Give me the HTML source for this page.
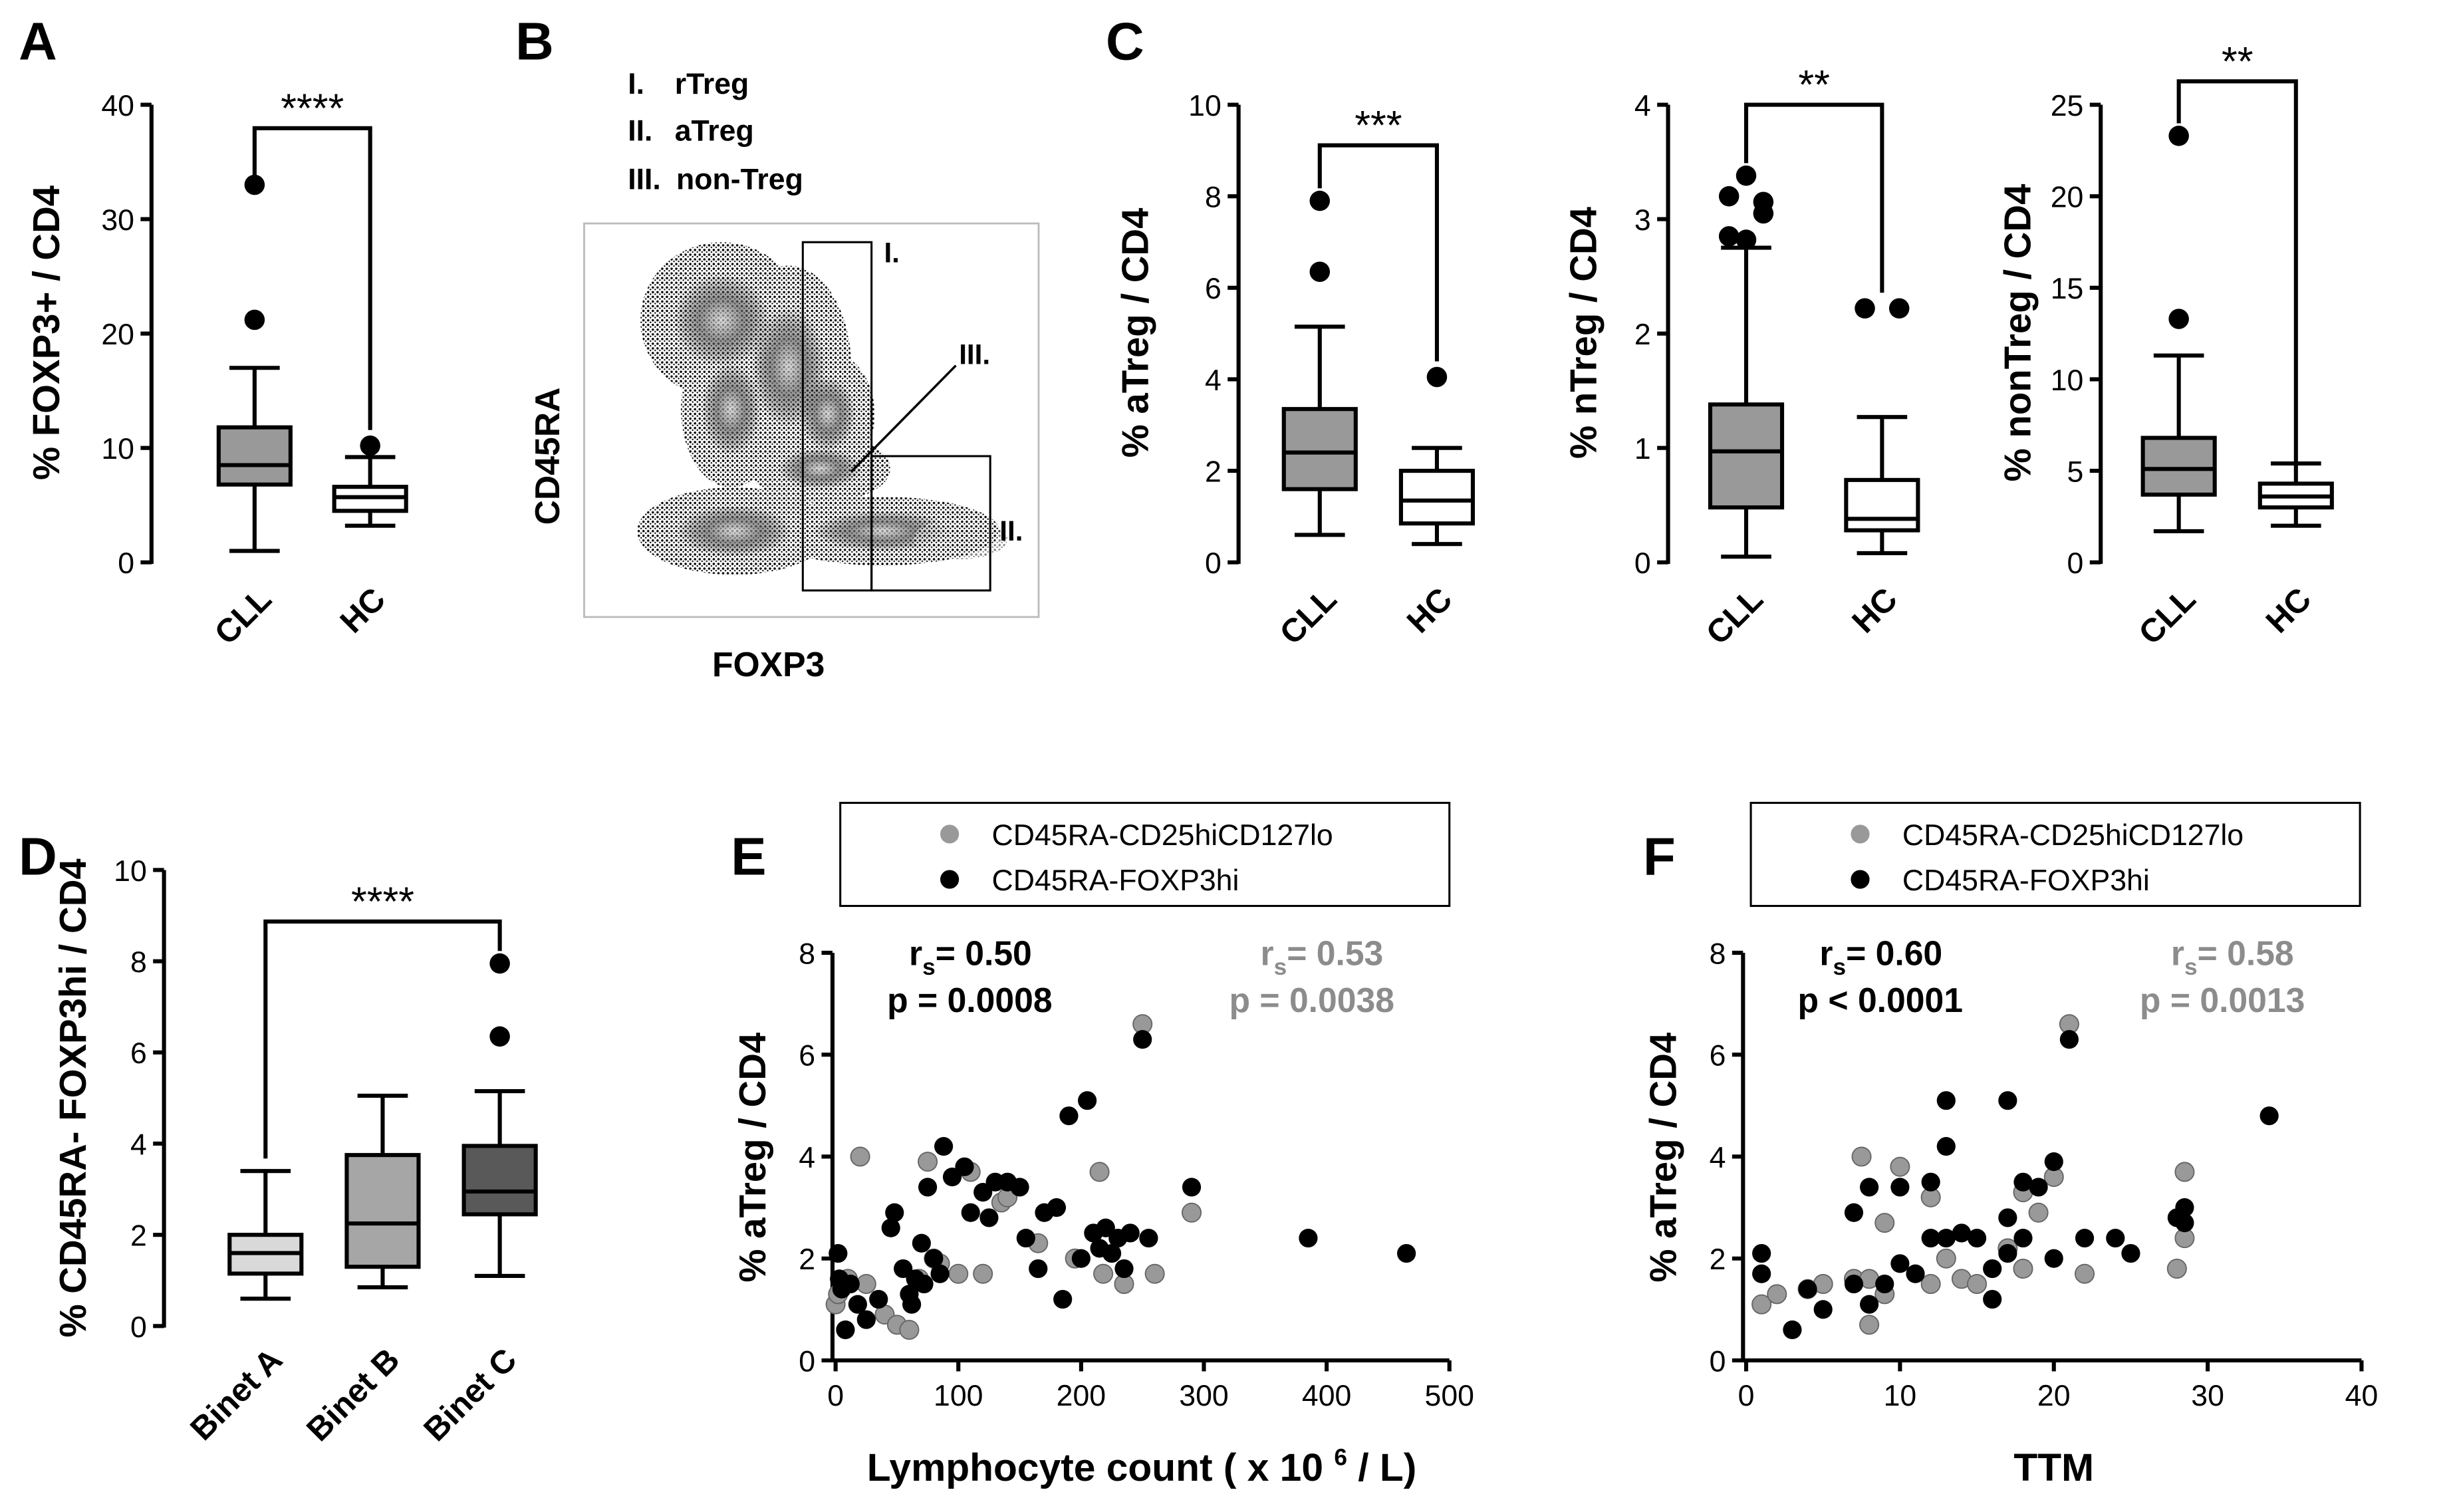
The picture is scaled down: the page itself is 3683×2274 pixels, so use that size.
<!DOCTYPE html>
<html><head><meta charset="utf-8"><style>
html,body{margin:0;padding:0;background:#fff}
svg{display:block}
text{font-family:"Liberation Sans",Arial,sans-serif}
</style></head><body>
<svg id="fig" width="3683" height="2274" viewBox="0 0 1568 968" xmlns="http://www.w3.org/2000/svg">
<defs>
<radialGradient id="dens" cx="50%" cy="50%" r="50%">
<stop offset="0" stop-color="#ccc"/><stop offset="0.45" stop-color="#666"/><stop offset="1" stop-color="#222" stop-opacity="0"/>
</radialGradient>
<pattern id="dots" width="3" height="3" patternUnits="userSpaceOnUse">
<rect width="3" height="3" fill="#fff"/><circle cx="1" cy="1" r="0.75" fill="#000"/><circle cx="2.5" cy="2.3" r="0.5" fill="#000"/>
</pattern>
</defs>
<g id="root"></g>
</svg>
<script>
// ---------- DATA ----------
const boxA_cats=["CLL","HC"];
const boxA_stats=[[1,6.8,8.5,11.8,17],[3.2,4.5,5.7,6.6,9.2]];
const boxA_out=[[21.2,33],[10.2]];
const boxA_ticks=[0,10,20,30,40];

const boxC1_stats=[[0.6,1.6,2.4,3.35,5.15],[0.4,0.85,1.35,2.0,2.5]];
const boxC1_out=[[6.35,7.9],[4.05]];
const boxC1_ticks=[0,2,4,6,8,10];

const boxC2_stats=[[0.05,0.48,0.97,1.38,2.75],[0.08,0.28,0.38,0.72,1.27]];
const boxC2_out=[[2.85,2.82,3.05,3.2,3.38,3.15],[2.22,2.22]];
const boxC2_ticks=[0,1,2,3,4];

const boxC3_stats=[[1.7,3.7,5.1,6.8,11.3],[2.0,3.0,3.6,4.3,5.4]];
const boxC3_out=[[13.3,23.3],[]];
const boxC3_ticks=[0,5,10,15,20,25];

const boxD_cats=["Binet A","Binet B","Binet C"];
const boxD_stats=[[0.6,1.15,1.6,2.0,3.4],[0.85,1.3,2.25,3.75,5.05],[1.1,2.45,2.95,3.95,5.15]];
const boxD_out=[[],[],[6.35,7.95]];
const boxD_ticks=[0,2,4,6,8,10];

const E_black_x=[2,3,5,8,12,18,25,35,45,48,55,60,62,65,70,72,75,80,85,88,95,105,110,120,125,130,140,150,155,165,170,180,185,190,200,205,210,215,220,225,230,235,240,250,255,290,385,465];
const E_black_y=[2.1,1.6,1.4,0.6,1.5,1.1,0.8,1.2,2.6,2.9,1.8,1.3,1.1,1.6,2.3,1.5,3.4,2.0,1.7,4.2,3.6,3.8,2.9,3.3,2.8,3.5,3.5,3.4,2.4,1.8,2.9,3.0,1.2,4.8,2.0,5.1,2.5,2.2,2.6,2.1,2.4,1.8,2.5,6.3,2.4,3.4,2.4,2.1];
const E_gray_x=[0,2,10,20,25,40,50,60,68,75,80,85,100,110,120,135,140,165,195,215,218,235,250,260,290];
const E_gray_y=[1.1,1.3,1.6,4.0,1.5,0.9,0.7,0.6,1.6,3.9,2.0,1.9,1.7,3.7,1.7,3.1,3.2,2.3,2.0,3.7,1.7,1.5,6.6,1.7,2.9];
const E_xticks=[0,100,200,300,400,500];
const E_yticks=[0,2,4,6,8];

const F_black_x=[1,1,3,4,5,7,7,8,8,9,10,10,11,12,12,13,13,13,14,15,16,16,17,17,17,18,18,19,20,20,21,22,24,25,28,28.5,28.5,34];
const F_black_y=[2.1,1.7,0.6,1.4,1.0,1.5,2.9,3.4,1.1,1.5,3.4,1.9,1.7,2.4,3.5,4.2,5.1,2.4,2.5,2.4,1.8,1.2,5.1,2.1,2.8,2.4,3.5,3.4,2.0,3.9,6.3,2.4,2.4,2.1,2.8,2.7,3.0,4.8];
const F_gray_x=[1,2,4,5,7,7.5,8,8,9,9,10,12,12,13,14,15,17,18,18,19,20,21,22,28,28.5,28.5];
const F_gray_y=[1.1,1.3,1.4,1.5,1.6,4.0,0.7,1.6,1.3,2.7,3.8,1.5,3.2,2.0,1.6,1.5,2.2,3.3,1.8,2.9,3.6,6.6,1.7,1.8,2.4,3.7];
const F_xticks=[0,10,20,30,40];
const F_yticks=[0,2,4,6,8];

// ---------- HELPERS ----------
const NS="http://www.w3.org/2000/svg";
const root=document.getElementById('root');
function el(tag,attrs,parent,txt){const e=document.createElementNS(NS,tag);for(const k in attrs)e.setAttribute(k,attrs[k]);if(txt!==undefined)e.textContent=txt;(parent||root).appendChild(e);return e;}
const LW=2.6;

function yAxis(g,x,y0,y1,ticks,vmin,vmax,name){
  const sy=v=>y0+(v-vmin)/(vmax-vmin)*(y1-y0);
  const ax=el('line',{x1:x,x2:x,y1:y0+1,y2:y1,stroke:'#000','stroke-width':LW},g);
  
  
  ticks.forEach(t=>{
    el('line',{x1:x-7,x2:x,y1:sy(t),y2:sy(t),stroke:'#000','stroke-width':LW},g);
    const tl=el('text',{x:x-11,y:sy(t)+7,'text-anchor':'end','font-size':19},g,String(t));
    
    
  });
  return sy;
}
function boxplot(g,cx,w,s,sy,fill,name,outs){
  const bg=el('g',{},g);
  
  
  el('line',{x1:cx,x2:cx,y1:sy(s[0]),y2:sy(s[1]),stroke:'#000','stroke-width':LW},bg);
  el('line',{x1:cx,x2:cx,y1:sy(s[3]),y2:sy(s[4]),stroke:'#000','stroke-width':LW},bg);
  el('line',{x1:cx-w*0.35,x2:cx+w*0.35,y1:sy(s[0]),y2:sy(s[0]),stroke:'#000','stroke-width':LW},bg);
  el('line',{x1:cx-w*0.35,x2:cx+w*0.35,y1:sy(s[4]),y2:sy(s[4]),stroke:'#000','stroke-width':LW},bg);
  el('rect',{x:cx-w/2,y:sy(s[3]),width:w,height:sy(s[1])-sy(s[3]),fill:fill,stroke:'#000','stroke-width':LW},bg);
  el('line',{x1:cx-w/2,x2:cx+w/2,y1:sy(s[2]),y2:sy(s[2]),stroke:'#000','stroke-width':LW},bg);
  (outs||[]).forEach((o,i)=>{
    const dx=outs.length>2?((i%3)-1)*11:(outs.length==2&&Math.abs(outs[0]-outs[1])<0.2?(i?11:-11):0);
    const c=el('circle',{cx:cx+dx,cy:sy(o),r:6.5,fill:'#000'},bg);
    
    
  });
}
function xcat(g,x,y,label,name){
  const t=el('text',{x:x,y:y,'text-anchor':'end','font-size':21,'font-weight':'bold',transform:`rotate(-45 ${x} ${y})`},g,label);
  
  
}
function bracket(g,x1,x2,y,ya,yb,stars,name){
  const b=el('path',{d:`M${x1},${ya} L${x1},${y} L${x2},${y} L${x2},${yb}`,fill:'none',stroke:'#000','stroke-width':LW},g);
  
  
  const t=el('text',{x:(x1+x2)/2,y:y-4,'text-anchor':'middle','font-size':26},g,stars);
  
  
}
function ytitle(g,x,y,txt,name,fs){
  const t=el('text',{x:x,y:y,'text-anchor':'middle','font-size':fs||24,'font-weight':'bold',transform:`rotate(-90 ${x} ${y})`},g,txt);
  
  
}
function letter(x,y,t){
  const l=el('text',{x:x,y:y,'font-size':34,'font-weight':'bold'},root,t);
  
  
}

// ---------- PANEL A ----------
letter(12,38,'A');
let gA=el('g',{});


let syA=yAxis(gA,97,360,67,boxA_ticks,0,40,'panel-a');
boxplot(gA,163,46,boxA_stats[0],syA,'#999','box-cll',boxA_out[0]);
boxplot(gA,237,46,boxA_stats[1],syA,'#fff','box-hc',boxA_out[1]);
bracket(gA,163,237,82,syA(33)-6,syA(10.2)-10,'****','panel-a-sig');
xcat(gA,175,385,'CLL','x-label-cll');xcat(gA,248,385,'HC','x-label-hc');
ytitle(gA,38,213,'% FOXP3+ / CD4','panel-a-y-title');

// ---------- PANEL C ----------
letter(708,38,'C');
function panelC(axX,c1,c2,stats,outs,ticks,vmax,sigY,stars,title,tx,n){
  const g=el('g',{});
  
  
  const sy=yAxis(g,axX,360,67,ticks,0,vmax,'panel-c'+n);
  boxplot(g,c1,46,stats[0],sy,'#999','box-cll',outs[0]);
  boxplot(g,c2,46,stats[1],sy,'#fff','box-hc',outs[1]);
  const top1=outs[0].length?sy(Math.max(...outs[0]))-8:sy(stats[0][4]);
  const top2=outs[1].length?sy(Math.max(...outs[1]))-10:sy(stats[1][4]);
  bracket(g,c1,c2,sigY,top1,top2,stars,'panel-c'+n+'-sig');
  xcat(g,c1+12,385,'CLL','x-label-cll');xcat(g,c2+11,385,'HC','x-label-hc');
  ytitle(g,tx,213,title,'panel-c'+n+'-y-title');
}
panelC(793,845,920,boxC1_stats,boxC1_out,boxC1_ticks,10,93,'***','% aTreg / CD4',735,1);
panelC(1068,1118,1205,boxC2_stats,boxC2_out,boxC2_ticks,4,67,'**','% nTreg / CD4',1022,2);
panelC(1345,1395,1470,boxC3_stats,boxC3_out,boxC3_ticks,25,52,'**','% nonTreg / CD4',1300,3);

// ---------- PANEL B (flow) ----------
letter(330,38,'B');
const gB=el('g',{});


[['I.','rTreg',60],['II.','aTreg',90],['III.','non-Treg',121]].forEach((r,i)=>{
  const t=el('text',{x:402,y:r[2],'font-size':19,'font-weight':'bold'},gB,r[0]);
  
  
  el('text',{x:r[0]==='III.'?433:432,y:r[2],'font-size':19,'font-weight':'bold'},gB,r[1]);
});
el('rect',{x:374,y:143,width:291,height:252,fill:'#fff',stroke:'#bbb','stroke-width':1.2},gB);
const clouds=[[462,205,52,50],[468,262,32,50],[525,300,45,22],[470,340,62,28],[565,340,75,22],[505,235,40,65],[530,265,30,40]];
clouds.forEach(c=>{el('ellipse',{cx:c[0],cy:c[1],rx:c[2],ry:c[3],fill:'url(#dots)'},gB);});
clouds.forEach(c=>{el('ellipse',{cx:c[0],cy:c[1],rx:c[2]*0.6,ry:c[3]*0.6,fill:'url(#dens)',opacity:0.7},gB);});
el('ellipse',{cx:615,cy:345,rx:30,ry:13,fill:'url(#dots)',opacity:0.5},gB);
const g1=el('rect',{x:514,y:155,width:44,height:223,fill:'none',stroke:'#000','stroke-width':1.3},gB);


const g2=el('rect',{x:558,y:292,width:76,height:86,fill:'none',stroke:'#000','stroke-width':1.3},gB);


el('line',{x1:545,y1:302,x2:612,y2:234,stroke:'#000','stroke-width':1.5},gB);
el('text',{x:566,y:168,'font-size':18,'font-weight':'bold'},gB,'I.');
el('text',{x:614,y:233,'font-size':18,'font-weight':'bold'},gB,'III.');
el('text',{x:640,y:346,'font-size':18,'font-weight':'bold'},gB,'II.');
ytitle(gB,358,292,'CD45RA','panel-b-y-title',22);
const fx=el('text',{x:492,y:433,'text-anchor':'middle','font-size':22,'font-weight':'bold'},gB,'FOXP3');



// ---------- PANEL D ----------
letter(12,560,'D');
const gD=el('g',{});


const syD=yAxis(gD,105,849,557,boxD_ticks,0,10,'panel-d');
const dFill=['#d9d9d9','#a6a6a6','#595959'];
const dX=[170,245,320];
boxD_stats.forEach((s,i)=>{boxplot(gD,dX[i],46,s,syD,dFill[i],'box-'+boxD_cats[i].toLowerCase().replace(' ','-'),boxD_out[i]);
  xcat(gD,dX[i]+12,872,boxD_cats[i],'x-label-'+boxD_cats[i].toLowerCase().replace(' ','-'));});
bracket(gD,170,320,590,syD(3.4)-8,syD(7.95)-8,'****','panel-d-sig');
ytitle(gD,55,703,'% CD45RA- FOXP3hi / CD4','panel-d-y-title');

// ---------- SCATTER PANELS ----------
function scatter(n,x0,x1,xmax,xticks,yticks,bx,by,gx,gy,xtitle,xtitleX,sb,sg,ytX){
  const g=el('g',{});
  
  
  const sx=v=>x0+v/xmax*(x1-x0);
  const sy=yAxis(g,x0-2,871,610,yticks,0,8,'panel-'+n);
  el('line',{x1:x0-3,x2:x1,y1:871,y2:871,stroke:'#000','stroke-width':LW},g);
  xticks.forEach(t=>{
    el('line',{x1:sx(t),x2:sx(t),y1:871,y2:878,stroke:'#000','stroke-width':LW},g);
    const tl=el('text',{x:sx(t),y:900,'text-anchor':'middle','font-size':19},g,String(t));
    
    
  });
  gx.forEach((v,i)=>{const c=el('circle',{cx:sx(v),cy:sy(gy[i]),r:6,fill:'#999',stroke:'#666','stroke-width':0.8},g);
    
    });
  bx.forEach((v,i)=>{const c=el('circle',{cx:sx(v),cy:sy(by[i]),r:6,fill:'#000'},g);
    
    });
  const lg=el('g',{},g);
  
  
  el('rect',{x:x0+3,y:514,width:390,height:66,fill:'#fff',stroke:'#000','stroke-width':1.3},lg);
  el('circle',{cx:x0+73,cy:534,r:6,fill:'#999'},lg);
  el('circle',{cx:x0+73,cy:563,r:6,fill:'#000'},lg);
  el('text',{x:x0+100,y:541,'font-size':19},lg,'CD45RA-CD25hiCD127lo');
  el('text',{x:x0+100,y:570,'font-size':19},lg,'CD45RA-FOXP3hi');
  const s1=el('text',{x:x0+47,y:618,'font-size':22,'font-weight':'bold'},g);
  
  
  s1.innerHTML=`<tspan x="${x0+47}">r</tspan><tspan font-size="15" dy="6">s</tspan><tspan dy="-6">= ${sb[0]}</tspan><tspan x="${x0+33}" dy="30">${sb[1]}</tspan>`;
  const s2=el('text',{x:x0+272,y:618,'font-size':22,'font-weight':'bold',fill:'#8c8c8c'},g);
  
  
  s2.innerHTML=`<tspan x="${x0+272}">r</tspan><tspan font-size="15" dy="6">s</tspan><tspan dy="-6">= ${sg[0]}</tspan><tspan x="${x0+252}" dy="30">${sg[1]}</tspan>`;
  ytitle(g,ytX,741,'% aTreg / CD4','panel-'+n+'-y-title');
  const xt=el('text',{x:xtitleX,y:948,'text-anchor':'middle','font-size':25,'font-weight':'bold'},g);
  
  
  xt.innerHTML=xtitle;
}
letter(468,560,'E');
scatter('e',535,928,500,E_xticks,E_yticks,E_black_x,E_black_y,E_gray_x,E_gray_y,
 'Lymphocyte count ( x 10 <tspan font-size="15" dy="-10">6</tspan><tspan dy="10"> / L)</tspan>',731,
 ['0.50','p = 0.0008'],['0.53','p = 0.0038'],490);
letter(1052,560,'F');
scatter('f',1118,1512,40,F_xticks,F_yticks,F_black_x,F_black_y,F_gray_x,F_gray_y,'TTM',1315,
 ['0.60','p &lt; 0.0001'],['0.58','p = 0.0013'],1073);
</script>
</body></html>
